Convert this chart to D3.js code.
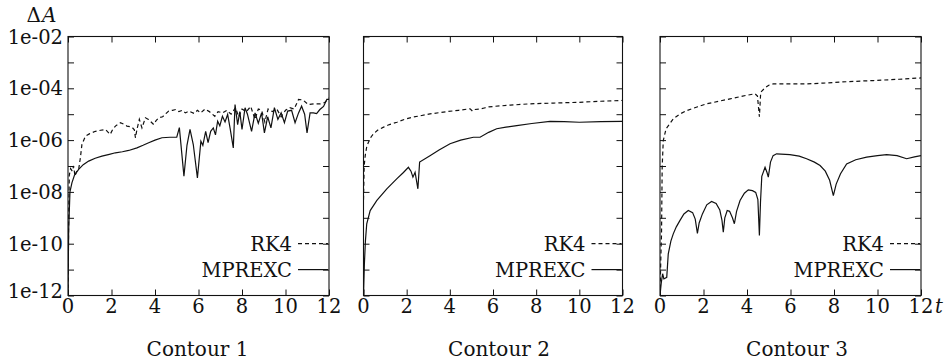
<!DOCTYPE html>
<html>
<head>
<meta charset="utf-8">
<script src="https://cdn.jsdelivr.net/npm/d3@7"></script>
<style>
  body { margin: 0; background: #fff; }
  svg { display: block; }
  text { font-family: "DejaVu Serif", serif; fill: #111; }
</style>
</head>
<body>
<svg id="chart" width="946" height="361"></svg>
<script>
// t values and log10(dA)
var c1RK4 = [[0,-12],[0.03,-9.2],[0.06,-7.35],[0.12,-7.1],[0.2,-7.2],[0.26,-7.0],[0.32,-7.39],[0.4,-7.2],[0.49,-7.13],[0.57,-6.68],[0.64,-6.17],[0.8,-5.85],[1.0,-5.75],[1.26,-5.66],[1.5,-5.62],[1.72,-5.59],[1.94,-5.78],[2.05,-5.6],[2.18,-5.46],[2.41,-5.33],[2.6,-5.4],[2.71,-5.46],[2.94,-5.5],[3.05,-5.6],[3.1,-5.91],[3.18,-5.55],[3.28,-5.2],[3.4,-5.53],[3.56,-5.14],[3.7,-5.2],[3.94,-5.4],[4.05,-5.25],[4.17,-5.14],[4.35,-5.1],[4.5,-4.98],[4.63,-4.88],[4.8,-4.85],[4.95,-4.82],[5.1,-4.9],[5.25,-4.85],[5.4,-4.95],[5.55,-4.88],[5.8,-4.97],[5.95,-4.85],[6.1,-4.95],[6.3,-4.8],[6.5,-4.9],[6.75,-5.08],[6.9,-4.9],[7.1,-4.95],[7.3,-4.85],[7.5,-5.0],[7.7,-4.75],[7.85,-5.1],[8.0,-4.8],[8.2,-4.9],[8.4,-4.7],[8.6,-5.2],[8.75,-4.8],[8.9,-4.85],[9.05,-5.3],[9.2,-4.8],[9.4,-4.9],[9.6,-4.8],[9.8,-5.1],[10.0,-4.85],[10.2,-4.75],[10.4,-4.8],[10.6,-4.43],[10.8,-4.45],[11.05,-4.63],[11.3,-4.6],[11.6,-4.6],[11.8,-4.55],[12.0,-4.37]];
var c1MPREXC = [[0,-12],[0.03,-9.5],[0.09,-8.0],[0.18,-7.65],[0.3,-7.35],[0.49,-7.13],[0.7,-6.95],[0.95,-6.81],[1.25,-6.7],[1.56,-6.62],[1.9,-6.55],[2.18,-6.49],[2.5,-6.45],[2.79,-6.4],[3.17,-6.3],[3.45,-6.2],[3.71,-6.1],[4.0,-6.0],[4.32,-5.91],[4.69,-5.89],[5.0,-5.89],[5.12,-5.52],[5.33,-7.39],[5.47,-6.2],[5.61,-5.59],[5.76,-6.17],[5.95,-7.46],[6.11,-6.04],[6.2,-6.2],[6.33,-5.66],[6.44,-6.1],[6.56,-5.66],[6.68,-5.53],[6.78,-5.8],[6.88,-5.27],[6.98,-5.45],[7.1,-5.08],[7.22,-5.3],[7.34,-5.01],[7.45,-5.53],[7.6,-6.3],[7.68,-4.63],[7.8,-5.4],[7.9,-4.9],[8.0,-5.59],[8.14,-4.75],[8.25,-5.0],[8.44,-5.66],[8.6,-4.95],[8.75,-5.35],[8.9,-4.95],[9.03,-5.72],[9.18,-5.1],[9.33,-5.53],[9.49,-4.75],[9.65,-5.2],[9.8,-4.95],[9.95,-5.33],[10.1,-4.88],[10.28,-4.85],[10.44,-5.33],[10.6,-4.95],[10.74,-4.69],[10.88,-5.0],[10.99,-5.72],[11.13,-4.95],[11.28,-4.95],[11.43,-4.98],[11.58,-4.82],[11.75,-4.7],[11.9,-4.43],[12.0,-4.43]];
var c2RK4 = [[0,-8.3],[0.03,-7.0],[0.08,-6.6],[0.15,-6.25],[0.23,-6.08],[0.35,-5.88],[0.46,-5.76],[0.65,-5.62],[0.93,-5.5],[1.2,-5.4],[1.55,-5.31],[1.9,-5.2],[2.31,-5.11],[2.7,-5.05],[3.08,-4.99],[3.5,-4.94],[3.86,-4.9],[4.4,-4.85],[4.94,-4.79],[5.05,-4.88],[5.15,-4.82],[5.4,-4.8],[5.6,-4.76],[5.8,-4.72],[6.02,-4.7],[6.8,-4.65],[7.7,-4.6],[8.8,-4.57],[10.0,-4.54],[11.0,-4.5],[12.0,-4.47]];
var c2MPREXC = [[0,-12],[0.04,-10.8],[0.09,-9.88],[0.15,-9.23],[0.31,-8.72],[0.62,-8.33],[1.08,-7.88],[1.55,-7.49],[1.85,-7.25],[2.08,-7.05],[2.2,-7.2],[2.29,-7.43],[2.39,-7.24],[2.52,-7.88],[2.6,-6.85],[3.08,-6.6],[3.5,-6.38],[4.01,-6.14],[4.5,-6.0],[5.09,-5.89],[5.4,-5.89],[5.8,-5.7],[6.17,-5.56],[6.6,-5.5],[7.1,-5.44],[7.8,-5.36],[8.64,-5.28],[9.3,-5.29],[10.0,-5.31],[11.0,-5.29],[12.0,-5.28]];
var c3RK4 = [[0,-12],[0.04,-10.5],[0.07,-9.62],[0.1,-7.05],[0.15,-6.02],[0.28,-5.56],[0.61,-5.18],[0.9,-5.0],[1.23,-4.86],[1.7,-4.72],[2.15,-4.6],[2.7,-4.5],[3.22,-4.41],[3.8,-4.3],[4.37,-4.21],[4.48,-4.3],[4.57,-5.1],[4.63,-4.15],[4.83,-3.98],[5.0,-3.88],[5.21,-3.83],[6.0,-3.83],[6.74,-3.83],[7.5,-3.8],[8.28,-3.76],[9.0,-3.73],[9.81,-3.7],[11.0,-3.65],[12.0,-3.6]];
var c3MPREXC = [[0,-12],[0.06,-11.5],[0.12,-11.16],[0.18,-11.36],[0.31,-11.3],[0.38,-10.39],[0.5,-9.9],[0.61,-9.62],[0.75,-9.35],[0.92,-9.1],[1.1,-8.85],[1.3,-8.72],[1.5,-8.8],[1.62,-9.05],[1.72,-9.6],[1.8,-9.2],[1.95,-8.85],[2.15,-8.5],[2.37,-8.37],[2.58,-8.45],[2.75,-8.7],[2.85,-9.1],[2.91,-9.56],[2.98,-9.0],[3.09,-8.72],[3.2,-8.75],[3.33,-9.0],[3.42,-9.23],[3.52,-8.75],[3.68,-8.33],[3.88,-8.05],[4.06,-7.92],[4.25,-7.95],[4.4,-8.02],[4.5,-8.3],[4.57,-9.68],[4.62,-8.4],[4.68,-7.4],[4.83,-7.05],[4.92,-7.25],[4.98,-7.43],[5.08,-6.85],[5.2,-6.6],[5.36,-6.53],[5.97,-6.56],[6.4,-6.62],[6.74,-6.72],[7.1,-6.85],[7.36,-6.98],[7.6,-7.2],[7.8,-7.55],[7.97,-8.14],[8.1,-7.7],[8.3,-7.3],[8.58,-6.92],[9.0,-6.76],[9.5,-6.66],[10.0,-6.6],[10.42,-6.56],[10.9,-6.6],[11.34,-6.72],[11.7,-6.65],[12.0,-6.6]];

var contours = ["Contour 1", "Contour 2", "Contour 3"];
var seriesNames = ["RK4", "MPREXC"];
var xTicks = [0, 2, 4, 6, 8, 10, 12];
var yTicks = [1e-2, 1e-3, 1e-4, 1e-5, 1e-6, 1e-7, 1e-8, 1e-9, 1e-10, 1e-11, 1e-12];
var yLabels = ["1e-02", "1e-04", "1e-06", "1e-08", "1e-10", "1e-12"];
var panelData = [[c1RK4, c1MPREXC], [c2RK4, c2MPREXC], [c3RK4, c3MPREXC]];

var svg = d3.select("#chart");
var yTop = 36.5, yBot = 295.5, fs = 19.5;
var panels = [
    { left: 68, right: 329, cap: 197.5 },
    { left: 363.5, right: 622.5, cap: 499 },
    { left: 660, right: 921, cap: 797 }
];
var dashes = ["4,3", null];

var y = d3.scaleLog().domain([1e-12, 1e-2]).range([yBot, yTop]);

panels.forEach(function (p, i) {
    var x = d3.scaleLinear().domain([0, 12]).range([p.left, p.right]);
    var g = svg.append("g");

    g.append("clipPath").attr("id", "clip" + i)
        .append("rect").attr("x", p.left).attr("y", yTop).attr("width", p.right - p.left).attr("height", yBot - yTop);

    // ticks point inward on all four sides
    var axes = [
        [d3.axisBottom(x).tickValues(xTicks), `translate(0,${yBot})`],
        [d3.axisTop(x).tickValues(xTicks), `translate(0,${yTop})`],
        [d3.axisLeft(y).tickValues(yTicks), `translate(${p.left},0)`],
        [d3.axisRight(y).tickValues(yTicks), `translate(${p.right},0)`]
    ];
    axes.forEach(function (a) {
        var ax = g.append("g").attr("transform", a[1])
            .call(a[0].tickSizeInner(-6).tickSizeOuter(0).tickFormat(""));
        ax.select(".domain").remove();
        ax.selectAll("line").attr("stroke", "#111").attr("stroke-width", 1);
    });

    var line = d3.line()
        .x(d => x(d[0]))
        .y(d => y(Math.pow(10, d[1])));

    panelData[i].forEach(function (s, k) {
        g.append("path")
            .attr("clip-path", `url(#clip${i})`)
            .attr("d", line(s))
            .attr("fill", "none")
            .attr("stroke", "#111")
            .attr("stroke-width", 1.2)
            .attr("stroke-dasharray", dashes[k]);
    });

    g.append("rect")
        .attr("x", p.left).attr("y", yTop)
        .attr("width", p.right - p.left).attr("height", yBot - yTop)
        .attr("fill", "none").attr("stroke", "#111").attr("stroke-width", 1.1);

    g.selectAll("text.xt").data(xTicks).enter().append("text")
        .attr("x", d => x(d))
        .attr("y", 313)
        .attr("text-anchor", "middle")
        .style("font-size", fs + "px")
        .text(d => d);

    // legend, gnuplot style against the right border
    seriesNames.forEach(function (n, k) {
        var ly = y(yTicks[8 + k]);
        g.append("text")
            .attr("x", p.right - 37).attr("y", ly)
            .attr("dy", "0.36em")
            .attr("text-anchor", "end")
            .style("font-size", fs + "px")
            .text(n);
        g.append("line")
            .attr("x1", p.right - 31).attr("x2", p.right - 1)
            .attr("y1", ly).attr("y2", ly)
            .attr("stroke", "#111").attr("stroke-width", 1.2)
            .attr("stroke-dasharray", dashes[k]);
    });

    g.append("text")
        .attr("x", p.cap).attr("y", 356)
        .attr("text-anchor", "middle")
        .style("font-size", "20px")
        .text(contours[i]);
});

// y labels on the first panel only
svg.selectAll("text.yl").data(yLabels).enter().append("text")
    .attr("x", panels[0].left - 5)
    .attr("y", (d, i) => y(+d) - (i === yLabels.length - 1 ? 5 : 0))
    .attr("dy", "0.36em")
    .attr("text-anchor", "end")
    .style("font-size", fs + "px")
    .text(d => d);

svg.append("text").attr("x", 41).attr("y", 22).attr("text-anchor", "end")
    .style("font-size", "20px").text("\u0394");
svg.append("text").attr("x", 42).attr("y", 22)
    .style("font-size", "20px").style("font-style", "italic").text("A");

svg.append("text")
    .attr("x", panels[2].right + 14).attr("y", 313)
    .style("font-size", fs + "px").style("font-style", "italic")
    .text("t");
</script>
</body>
</html>
